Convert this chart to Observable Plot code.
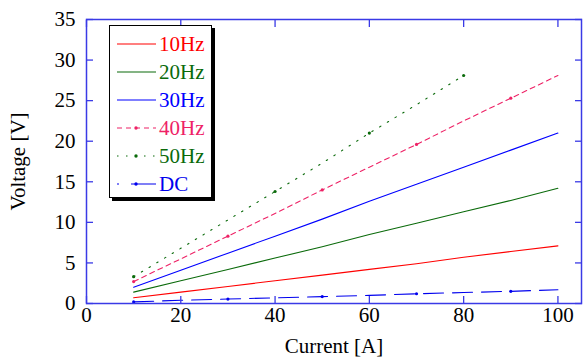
<!DOCTYPE html>
<html><head><meta charset="utf-8">
<script src="https://cdn.jsdelivr.net/npm/d3@7"></script>
<script src="https://cdn.jsdelivr.net/npm/@observablehq/plot@0.6"></script>
<style>
body{margin:0;background:#fff}
#wrap{position:relative;width:586px;height:360px;font-family:"Liberation Serif","Times New Roman",serif}
#legend{position:absolute;left:109px;top:25px;width:101px;height:171px;border:1.5px solid #000;box-shadow:3px 3px 0 #000;background:#fff}
#legend .row{position:absolute;left:0;height:24px;width:101px}
#legend svg{position:absolute;left:6px;top:0}
#legend span{position:absolute;left:49px;top:0;line-height:24px;font-size:21px}
</style></head><body><div id="wrap"></div>
<script>
// ---- data ----
const current = [10, 20, 30, 40, 50, 60, 70, 80, 90, 100];
const v10Hz = [0.7, 1.4, 2.1, 2.8, 3.5, 4.2, 4.9, 5.7, 6.4, 7.1];
const v20Hz = [1.4, 2.8, 4.2, 5.6, 7.0, 8.5, 9.9, 11.3, 12.7, 14.2];
const v30Hz = [2.0, 4.1, 6.2, 8.3, 10.4, 12.6, 14.7, 16.8, 18.9, 21.0];
const v40Hz = [2.7, 5.5, 8.3, 11.1, 14.0, 16.8, 19.6, 22.5, 25.3, 28.1];
const v50Hz = [3.3, 6.8, 10.3, 13.8, 17.3, 21.0, 24.5, 28.1];
const vDC   = [0.2, 0.4, 0.55, 0.7, 0.85, 1.0, 1.2, 1.35, 1.5, 1.7];
const seriesNames = ["10Hz", "20Hz", "30Hz", "40Hz", "50Hz", "DC"];
const xTicks = [0, 20, 40, 60, 80, 100];
const yTicks = [0, 5, 10, 15, 20, 25, 30, 35];

// ---- styles ----
const seriesValues = [v10Hz, v20Hz, v30Hz, v40Hz, v50Hz, vDC];
const seriesColors = ["#ff0000", "#0a6a0a", "#0000ff", "#ee2266", "#0a6a0a", "#0000ee"];
const seriesDash = [null, null, null, "5,4", "1.5,7.5", "20,9"];
const legendDash = [null, null, null, "5,4", "1.5,7.5", "2,12,40"];
const seriesMarkers = [null, null, null, [0,2,4,6,8], [0,3,5,7], [0,2,4,6,8]];
const axisColor = "#3a3ae6";

const marks = [];
seriesNames.forEach((name, s) => {
  const rows = seriesValues[s].map((v, i) => ({I: current[i], V: v, i}));
  marks.push(Plot.line(rows, {x: "I", y: "V", stroke: seriesColors[s], strokeWidth: 1.1,
    strokeDasharray: seriesDash[s] || undefined}));
  if (seriesMarkers[s]) {
    marks.push(Plot.dot(rows.filter(d => seriesMarkers[s].includes(d.i)),
      {x: "I", y: "V", r: 1.6, fill: seriesColors[s], stroke: "none"}));
  }
});

const chart = Plot.plot({
  width: 586, height: 360,
  marginLeft: 86, marginRight: 5, marginTop: 19, marginBottom: 57,
  style: {fontFamily: "'Liberation Serif', 'Times New Roman', serif", fontSize: "21px", color: "#000", background: "#fff"},
  x: {domain: [0, 105]},
  y: {domain: [0, 35]},
  marks: [
    ...marks,
    Plot.frame({stroke: axisColor, strokeWidth: 1.5}),
    Plot.axisX(xTicks, {anchor: "bottom", tickSize: -7, stroke: axisColor, strokeWidth: 1.3, tickFormat: () => "", label: null}),
    Plot.axisX(xTicks, {anchor: "top", tickSize: -7, stroke: axisColor, strokeWidth: 1.3, tickFormat: () => "", label: null}),
    Plot.axisY(yTicks, {anchor: "left", tickSize: -7, stroke: axisColor, strokeWidth: 1.3, tickFormat: () => "", label: null}),
    Plot.axisY(yTicks, {anchor: "right", tickSize: -7, stroke: axisColor, strokeWidth: 1.3, tickFormat: () => "", label: null}),
    Plot.axisX(xTicks, {anchor: "bottom", tickSize: 0, tickPadding: 4, fill: "#000", fontSize: 21,
      label: "Current [A]", labelAnchor: "center", labelOffset: 49, labelArrow: "none"}),
    Plot.axisY(yTicks, {anchor: "left", tickSize: 0, tickPadding: 11, fill: "#000", fontSize: 21,
      label: "Voltage [V]", labelAnchor: "center", labelOffset: 76, labelArrow: "none"})
  ]
});
const wrap = document.getElementById("wrap");
wrap.appendChild(chart);

// legend
const leg = d3.select(wrap).append("div").attr("id", "legend");
seriesNames.forEach((name, s) => {
  const row = leg.append("div").attr("class", "row").style("top", (6 + s * 27.9) + "px");
  const svg = row.append("svg").attr("width", 42).attr("height", 24);
  svg.append("line").attr("x1", 1).attr("x2", 40).attr("y1", 12).attr("y2", 12)
    .attr("stroke", seriesColors[s]).attr("stroke-width", 1.1)
    .attr("stroke-dasharray", legendDash[s]);
  if (seriesMarkers[s]) svg.append("circle").attr("cx", 20).attr("cy", 12).attr("r", 1.7).attr("fill", seriesColors[s]);
  row.append("span").text(name).style("color", seriesColors[s]);
});
</script></body></html>
